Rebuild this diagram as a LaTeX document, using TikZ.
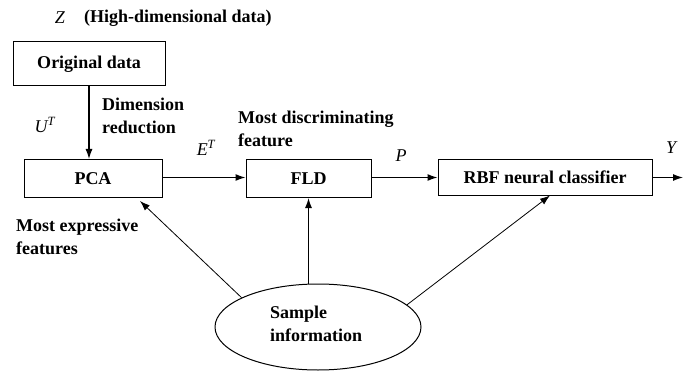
\documentclass[tikz,border=0pt]{standalone}
\usepackage{fontspec}
\setmainfont{Liberation Serif}
\usetikzlibrary{arrows.meta,shapes.geometric}
\tikzset{
  x=1pt,y=1pt,
  lbl/.style={font=\fontsize{18}{23}\selectfont\bfseries, inner sep=0pt},
  lblL/.style={lbl, anchor=west, align=left},
  sym/.style={font=\fontsize{18}{22}\selectfont\itshape, inner sep=0pt},
  box/.style={draw, line width=1pt, minimum height=38pt, inner sep=0pt, font=\fontsize{18}{23}\selectfont\bfseries},
  arr/.style={line width=1.3pt, -{Latex[length=10pt,width=7pt]}},
  thinarr/.style={line width=0.8pt, -{Latex[length=10pt,width=7pt]}},
}
\begin{document}
\begin{tikzpicture}
\useasboundingbox (0,0) rectangle (687,-374);
% labels
\node[sym] (z) at (60,-18) {Z};
\node[lblL] (hd) at (84,-18) {(High-dimensional data)};
% boxes
\node[box, minimum width=152pt, minimum height=44pt] (orig) at (89,-64) {Original data};
\node[box, minimum width=138pt] (pca) at (93,-178.5) {PCA};
\node[box, minimum width=125pt] (fld) at (308.5,-178.5) {FLD};
\node[box, minimum width=214pt, minimum height=35pt] (rbf) at (545,-177.5) {RBF neural classifier};
\node[draw, line width=1pt, ellipse, minimum width=206pt, minimum height=86pt, inner sep=0pt] (s) at (318,-327) {};
\node[lblL] (st) at (270,-324) {Sample\\information};
\coordinate (out) at (683,-177.5);
% text labels
\node[sym] (ut) at (45,-125) {U\textsuperscript{T}};
\node[lblL] (dr) at (102,-116) {Dimension\\reduction};
\node[lblL] (md) at (238,-129) {Most discriminating\\feature};
\node[sym] (et) at (206,-148) {E\textsuperscript{T}};
\node[sym] (p) at (401,-156) {P};
\node[sym] (y) at (671,-148) {Y};
\node[lblL] (me) at (16,-237) {Most expressive\\features};
% connectors
\draw[arr] (orig.south) -- (orig.south |- pca.north);
\draw[arr] (pca.east |- rbf.center) -- (fld.west |- rbf.center);
\draw[arr] (fld.east |- rbf.center) -- (rbf.west);
\draw[arr] (rbf.east) -- (out);
\draw[arr] (s.north -| fld.center) -- (fld.south);
\draw[thinarr] (s.159) -- ([xshift=47pt,yshift=-3pt]pca.south);
\draw[thinarr] (s.14) -- ([xshift=5pt]rbf.south);
\end{tikzpicture}
\end{document}
